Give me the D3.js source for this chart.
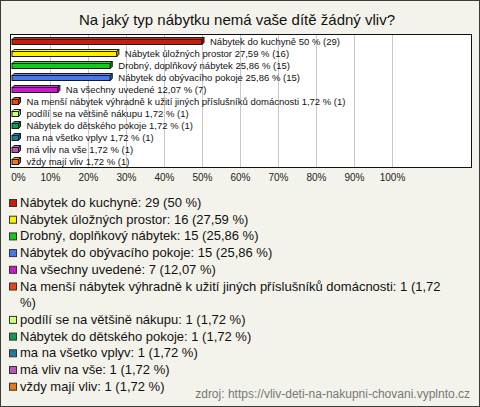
<!DOCTYPE html>
<html><head><meta charset="utf-8">
<script src="https://cdn.jsdelivr.net/npm/d3@7"></script>
<style>body{margin:0;background:#fff}svg{display:block}</style>
</head><body>
<script>
const title = "Na jaký typ nábytku nemá vaše dítě žádný vliv?";
const categories = [
  "Nábytek do kuchyně",
  "Nábytek úložných prostor",
  "Drobný, doplňkový nábytek",
  "Nábytek do obývacího pokoje",
  "Na všechny uvedené",
  "Na menší nábytek výhradně k užití jiných příslušníků domácnosti",
  "podílí se na většině nákupu",
  "Nábytek do dětského pokoje",
  "ma na všetko vplyv",
  "má vliv na vše",
  "vždy mají vliv"
];
const counts = [29, 16, 15, 15, 7, 1, 1, 1, 1, 1, 1];
const percents = [50, 27.59, 25.86, 25.86, 12.07, 1.72, 1.72, 1.72, 1.72, 1.72, 1.72];
const colors = ["#c41e0c", "#ffee00", "#16c81e", "#4a78e8", "#c81ccc", "#ea4614", "#ccff77", "#129955", "#237a96", "#b855b8", "#ea7a12"];
const tickValues = [0, 10, 20, 30, 40, 50, 60, 70, 80, 90, 100];
const source = "zdroj: https://vliv-deti-na-nakupni-chovani.vyplnto.cz";

const W = 480, H = 407;
const fmt = v => String(v).replace(".", ",");
const svg = d3.select("body").append("svg").attr("width", W).attr("height", H)
  .style("font-family", "'Liberation Sans', Arial, sans-serif");
svg.append("rect").attr("x", 0.5).attr("y", 0.5).attr("width", W - 1).attr("height", H - 1)
  .attr("fill", "#f4f3eb").attr("stroke", "#3a3a3a");

svg.append("text").attr("x", 237).attr("y", 25).attr("text-anchor", "middle")
  .attr("font-size", 15).attr("fill", "#111").text(title);

const plot = {x0: 10.5, x1: 471.5, y0: 34.5, y1: 167.5};
svg.append("rect").attr("x", plot.x0).attr("y", plot.y0)
  .attr("width", plot.x1 - plot.x0).attr("height", plot.y1 - plot.y0)
  .attr("fill", "#fff");

const x = d3.scaleLinear().domain([0, 100]).range([12, 392]);
const y = d3.scaleBand().domain(categories).range([35, 167]);

// gridlines
svg.append("g").selectAll("line").data(tickValues.filter(v => v > 0)).join("line")
  .attr("x1", d => Math.round(x(d)) + 0.5).attr("x2", d => Math.round(x(d)) + 0.5)
  .attr("y1", plot.y0).attr("y2", plot.y1).attr("stroke", "#c8c8c8");

// axis labels
const axis = d3.axisBottom(x).tickValues(tickValues).tickFormat(d => d + "%").tickSize(0).tickPadding(0);
const ax = svg.append("g").attr("transform", `translate(0,${174})`).call(axis);
ax.select(".domain").remove();
ax.selectAll("text").attr("font-size", 10).attr("fill", "#222")
  .attr("font-family", "'Liberation Sans', Arial, sans-serif")
  .attr("dy", "0.71em");
ax.selectAll(".tick").filter(d => d === 0).select("text").attr("x", 6);

// bars (3D)
const depth = 2, bh = 7;
const bars = svg.append("g");
categories.forEach((c, i) => {
  const x0 = x(0), x1 = x(percents[i]);
  const top = y(c) + (y.bandwidth() - bh) / 2;
  const bot = top + bh;
  const col = d3.color(colors[i]);
  const stroke = "#1a1a1a";
  bars.append("rect").attr("x", x0).attr("y", top + depth).attr("width", x1 - x0).attr("height", bh - depth)
    .attr("fill", col.formatHex()).attr("stroke", stroke).attr("stroke-width", 1);
  bars.append("path").attr("d", `M${x0},${top + depth}L${x0 + depth},${top}L${x1 + depth},${top}L${x1},${top + depth}Z`)
    .attr("fill", col.brighter(0.4).formatHex()).attr("stroke", stroke).attr("stroke-width", 1);
  bars.append("path").attr("d", `M${x1},${top + depth}L${x1 + depth},${top}L${x1 + depth},${bot - depth}L${x1},${bot}Z`)
    .attr("fill", col.darker(0.8).formatHex()).attr("stroke", stroke).attr("stroke-width", 1);
  bars.append("text").attr("x", x1 + depth + 6).attr("y", y(c) + y.bandwidth() / 2 + 3.5)
    .attr("font-size", 9.5).attr("fill", "#111")
    .text(`${c} ${fmt(percents[i])} % (${counts[i]})`);
});

svg.append("rect").attr("x", plot.x0).attr("y", plot.y0)
  .attr("width", plot.x1 - plot.x0).attr("height", plot.y1 - plot.y0)
  .attr("fill", "none").attr("stroke", "#111");

// legend
const lg = svg.append("g");
let ly = 207;
const lh = 16.7, maxW = 440;
categories.forEach((c, i) => {
  lg.append("rect").attr("x", 9.5).attr("y", ly - 7.5).attr("width", 7).attr("height", 7)
    .attr("fill", colors[i]).attr("stroke", "#333");
  const full = `${c}: ${counts[i]} (${fmt(percents[i])} %)`;
  const t = lg.append("text").attr("x", 20).attr("y", ly).attr("font-size", 13).attr("fill", "#111");
  const words = full.split(" ");
  let line = [];
  let tspan = t.append("tspan").attr("x", 20).attr("y", ly);
  words.forEach(w => {
    line.push(w);
    tspan.text(line.join(" "));
    if (tspan.node().getComputedTextLength() > maxW && line.length > 1) {
      line.pop();
      tspan.text(line.join(" "));
      line = [w];
      ly += lh;
      tspan = t.append("tspan").attr("x", 20).attr("y", ly).text(w);
    }
  });
  ly += lh;
});

svg.append("text").attr("x", 470).attr("y", 398).attr("text-anchor", "end")
  .attr("font-size", 12).attr("fill", "#777").text(source);
</script>
</body></html>
